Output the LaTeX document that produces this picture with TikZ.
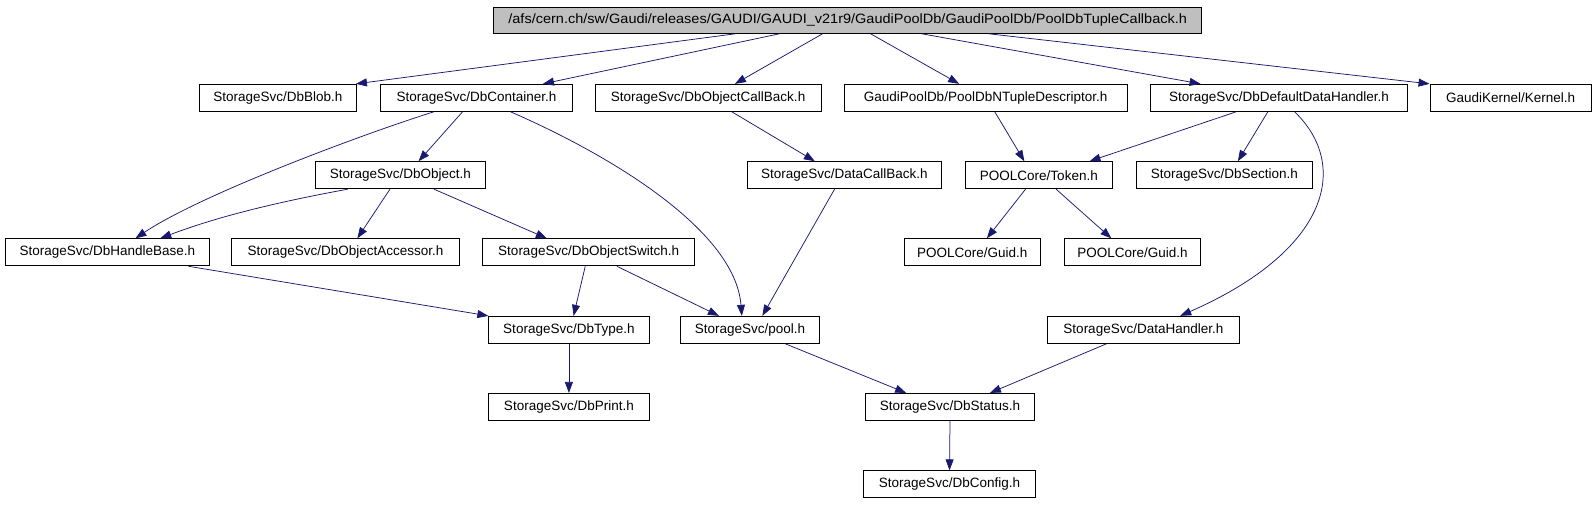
\documentclass[tikz,border=0pt]{standalone}
\usepackage{fontspec}
\setmainfont{Liberation Sans}
\usetikzlibrary{arrows.meta}
\definecolor{edgeblue}{HTML}{191970}
\definecolor{rootgray}{HTML}{BFBFBF}
\tikzset{
  box/.style={draw=black, line width=0.9pt, fill=white, minimum height=27pt, inner sep=0pt, font=\fontsize{13.5}{15}\selectfont},
  rootbox/.style={box, fill=rootgray, minimum height=26pt},
  edge/.style={draw=edgeblue, line width=0.75pt, -{Triangle[length=11pt,width=8pt]}, edgeblue}
}
\begin{document}
\begin{tikzpicture}[x=1pt,y=-1pt]
\useasboundingbox (0,0) rectangle (1596,504);
% root
\node[rootbox, minimum width=708pt] (root) at (847.7,20.3) {\scalebox{1.075}[1]{/afs/cern.ch/sw/Gaudi/releases/GAUDI/GAUDI\_v21r9/GaudiPoolDb/GaudiPoolDb/PoolDbTupleCallback.h}};
% row 1
\node[box, minimum width=156.9pt] (blob) at (277.85,97.8) {StorageSvc/DbBlob.h};
\node[box, minimum width=192.1pt] (cont) at (476.45,97.8) {StorageSvc/DbContainer.h};
\node[box, minimum width=226.2pt] (ocb) at (708.1,97.8) {StorageSvc/DbObjectCallBack.h};
\node[box, minimum width=283.1pt] (ntd) at (985.65,97.8) {GaudiPoolDb/PoolDbNTupleDescriptor.h};
\node[box, minimum width=256.6pt] (ddh) at (1279,97.8) {StorageSvc/DbDefaultDataHandler.h};
\node[box, minimum width=161.3pt] (kern) at (1510.65,97.8) {GaudiKernel/Kernel.h};
% row 2
\node[box, minimum width=170pt] (obj) at (400.3,175.2) {StorageSvc/DbObject.h};
\node[box, minimum width=194.1pt] (dcb) at (844.35,175.2) {StorageSvc/DataCallBack.h};
\node[box, minimum width=146.7pt] (tok) at (1038.85,175.2) {POOLCore/Token.h};
\node[box, minimum width=176pt] (sec) at (1224.3,175.2) {StorageSvc/DbSection.h};
% row 3
\node[box, minimum width=203.9pt] (hb) at (107.35,252.3) {StorageSvc/DbHandleBase.h};
\node[box, minimum width=228.1pt] (acc) at (345.55,252.3) {StorageSvc/DbObjectAccessor.h};
\node[box, minimum width=212.1pt] (sw) at (588.65,252.3) {StorageSvc/DbObjectSwitch.h};
\node[box, minimum width=136.1pt] (guida) at (972.25,252.3) {POOLCore/Guid.h};
\node[box, minimum width=136.3pt] (guidb) at (1132.55,252.3) {POOLCore/Guid.h};
% row 4
\node[box, minimum width=160.2pt] (type) at (568.9,329.8) {StorageSvc/DbType.h};
\node[box, minimum width=138.9pt] (pool) at (750.05,329.8) {StorageSvc/pool.h};
\node[box, minimum width=191.4pt] (dh) at (1143.4,329.8) {StorageSvc/DataHandler.h};
% row 5
\node[box, minimum width=160.2pt] (print) at (568.9,406.9) {StorageSvc/DbPrint.h};
\node[box, minimum width=169pt] (stat) at (950,406.9) {StorageSvc/DbStatus.h};
% row 6
\node[box, minimum width=172pt] (conf) at (949.5,484.3) {StorageSvc/DbConfig.h};
% edges from root
\draw[edge] ([xshift=242.3pt]root.south west) -- ([xshift=157pt]blob.north west);
\draw[edge] ([xshift=286.3pt]root.south west) -- ([xshift=163pt]cont.north west);
\draw[edge] ([xshift=329.3pt]root.south west) -- ([xshift=140.4pt]ocb.north west);
\draw[edge] ([xshift=377.3pt]root.south west) -- ([xshift=115.5pt]ntd.north west);
\draw[edge] ([xshift=428.3pt]root.south west) -- ([xshift=50.3pt]ddh.north west);
\draw[edge] ([xshift=495.3pt]root.south west) -- (kern.north west);
% DbContainer
\draw[edge] ([xshift=54pt]cont.south west) .. controls (360,135) and (200,195) .. ([xshift=130.5pt]hb.north west);
\draw[edge] ([xshift=82.6pt]cont.south west) -- ([xshift=103.7pt]obj.north west);
\draw[edge] ([xshift=130.5pt]cont.south west) .. controls (610,155) and (735,230) .. ([xshift=61.7pt]pool.north west);
% DbObject
\draw[edge] ([xshift=33pt]obj.south west) .. controls (300,198) and (230,212) .. ([xshift=155.3pt]hb.north west);
\draw[edge] ([xshift=75.1pt]obj.south west) -- ([xshift=126.3pt]acc.north west);
\draw[edge] ([xshift=119.1pt]obj.south west) -- ([xshift=64.7pt]sw.north west);
% DbObjectCallBack
\draw[edge] ([xshift=137.2pt]ocb.south west) -- ([xshift=68pt]dcb.north west);
% DataCallBack
\draw[edge] ([xshift=87.7pt]dcb.south west) -- ([xshift=82.2pt]pool.north west);
% PoolDbNTupleDescriptor
\draw[edge] ([xshift=151.1pt]ntd.south west) -- ([xshift=59.3pt]tok.north west);
% DbDefaultDataHandler
\draw[edge] ([xshift=86pt]ddh.south west) -- ([xshift=124.5pt]tok.north west);
\draw[edge] ([xshift=117.6pt]ddh.south west) -- ([xshift=102pt]sec.north west);
\draw[edge] ([xshift=144.3pt]ddh.south west) .. controls (1350,165) and (1330,250) .. ([xshift=133pt]dh.north west);
% Token
\draw[edge] ([xshift=60.5pt]tok.south west) -- ([xshift=83.1pt]guida.north west);
\draw[edge] ([xshift=91pt]tok.south west) -- ([xshift=47.4pt]guidb.north west);
% DbHandleBase
\draw[edge] ([xshift=183.4pt]hb.south west) -- (type.north west);
% DbObjectSwitch
\draw[edge] ([xshift=103.1pt]sw.south west) -- ([xshift=85.2pt]type.north west);
\draw[edge] ([xshift=134.7pt]sw.south west) -- ([xshift=38.8pt]pool.north west);
% DbType
\draw[edge] (type.south) -- (print.north);
% pool, DataHandler
\draw[edge] ([xshift=105.1pt]pool.south west) -- ([xshift=41.1pt]stat.north west);
\draw[edge] ([xshift=59.3pt]dh.south west) -- ([xshift=124.9pt]stat.north west);
% DbStatus
\draw[edge] (stat.south) -- (conf.north);
\end{tikzpicture}
\end{document}
